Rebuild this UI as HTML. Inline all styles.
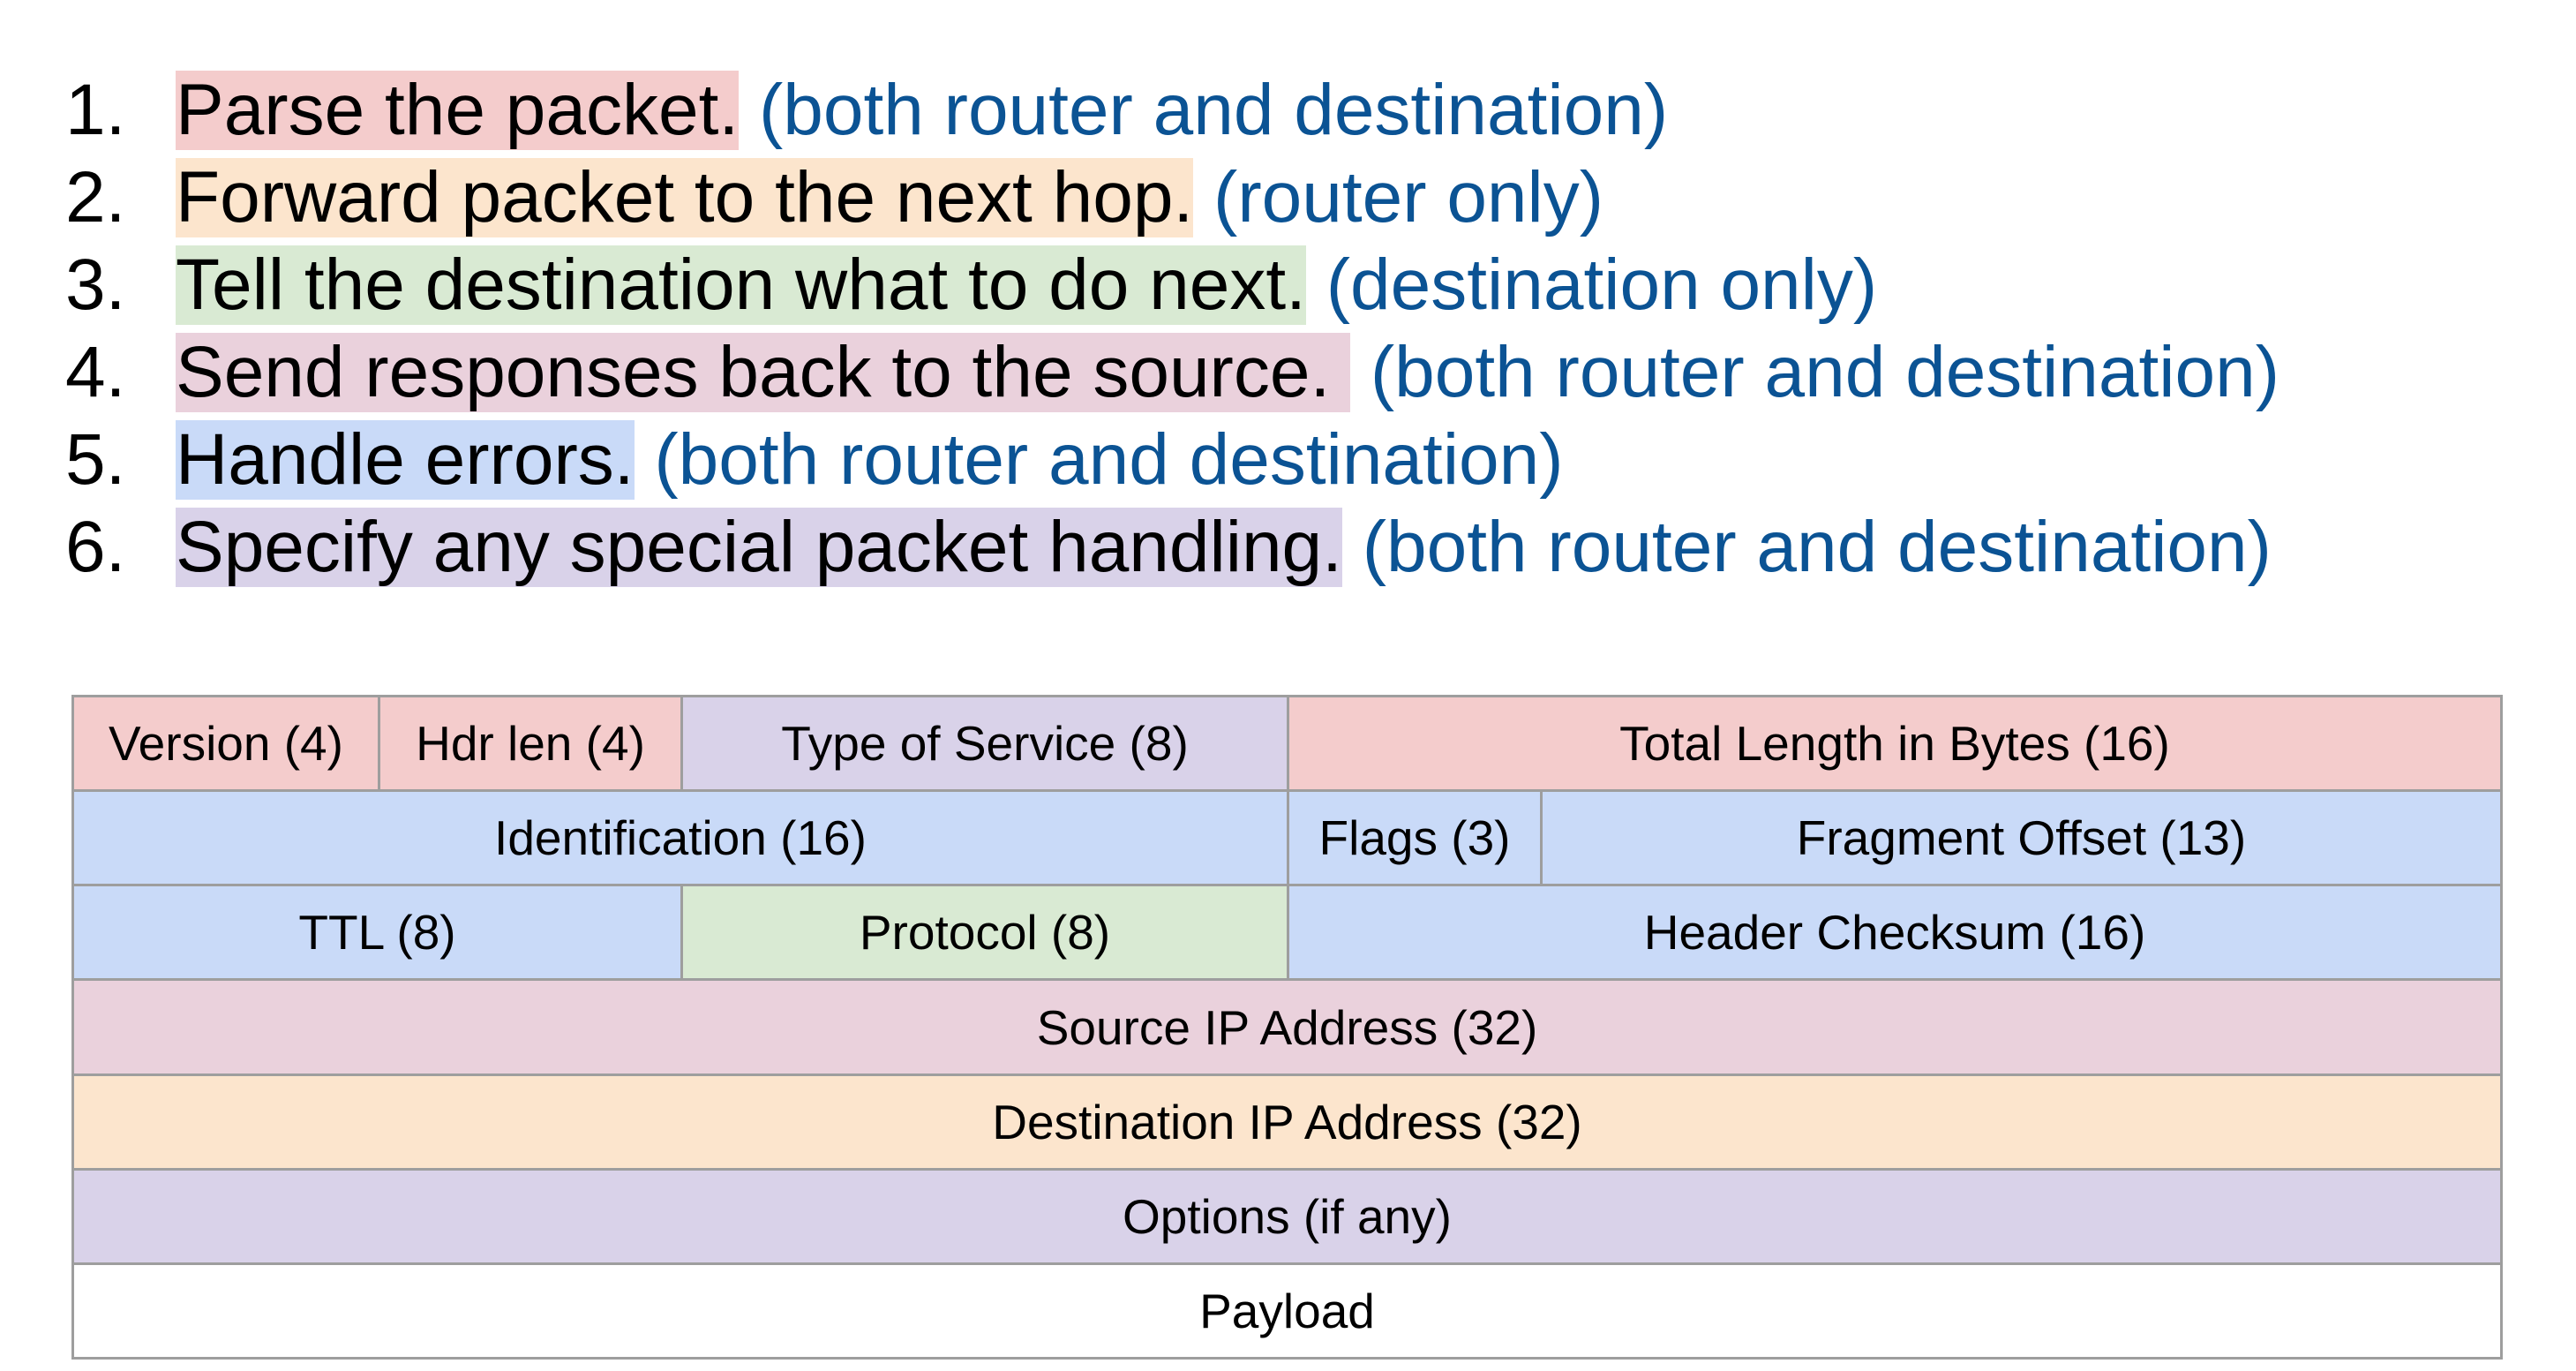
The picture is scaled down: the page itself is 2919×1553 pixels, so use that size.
<!DOCTYPE html>
<html><head><meta charset="utf-8"><style>
html,body{margin:0;padding:0;background:#fff;}
body{width:2919px;height:1553px;position:relative;overflow:hidden;font-family:"Liberation Sans",Arial,sans-serif;}
.ln{position:absolute;left:0;height:90px;line-height:90px;font-size:82px;white-space:pre;color:#000;}
.num{position:absolute;left:74px;}
.txt{position:absolute;left:199px;}
.hl{display:inline-block;height:90px;}
.b{color:#0b5394;}
.c{position:absolute;box-sizing:border-box;border:3px solid #9e9e9e;display:flex;align-items:center;justify-content:center;font-size:55px;color:#000;}
</style></head><body>
<div class="ln" style="top:80px"><span class="num">1.</span><span class="txt"><span class="hl" style="background:#f4cccc">Parse the packet.</span> <span class="b">(both router and destination)</span></span></div>
<div class="ln" style="top:179px"><span class="num">2.</span><span class="txt"><span class="hl" style="background:#fce5cd">Forward packet to the next hop.</span> <span class="b">(router only)</span></span></div>
<div class="ln" style="top:278px"><span class="num">3.</span><span class="txt"><span class="hl" style="background:#d9ead3">Tell the destination what to do next.</span> <span class="b">(destination only)</span></span></div>
<div class="ln" style="top:377px"><span class="num">4.</span><span class="txt"><span class="hl" style="background:#ead1dc">Send responses back to the source. </span> <span class="b">(both router and destination)</span></span></div>
<div class="ln" style="top:476px"><span class="num">5.</span><span class="txt"><span class="hl" style="background:#c9daf8">Handle errors.</span> <span class="b">(both router and destination)</span></span></div>
<div class="ln" style="top:575px"><span class="num">6.</span><span class="txt"><span class="hl" style="background:#d9d2e9">Specify any special packet handling.</span> <span class="b">(both router and destination)</span></span></div>

<div class="c" style="left:81px;top:787px;width:350px;height:110px;background:#f4cccc">Version (4)</div>
<div class="c" style="left:428px;top:787px;width:346px;height:110px;background:#f4cccc">Hdr len (4)</div>
<div class="c" style="left:771px;top:787px;width:690px;height:110px;background:#d9d2e9">Type of Service (8)</div>
<div class="c" style="left:1458px;top:787px;width:1378px;height:110px;background:#f4cccc">Total Length in Bytes (16)</div>

<div class="c" style="left:81px;top:894px;width:1380px;height:110px;background:#c9daf8">Identification (16)</div>
<div class="c" style="left:1458px;top:894px;width:290px;height:110px;background:#c9daf8">Flags (3)</div>
<div class="c" style="left:1745px;top:894px;width:1091px;height:110px;background:#c9daf8">Fragment Offset (13)</div>

<div class="c" style="left:81px;top:1001px;width:693px;height:110px;background:#c9daf8">TTL (8)</div>
<div class="c" style="left:771px;top:1001px;width:690px;height:110px;background:#d9ead3">Protocol (8)</div>
<div class="c" style="left:1458px;top:1001px;width:1378px;height:110px;background:#c9daf8">Header Checksum (16)</div>

<div class="c" style="left:81px;top:1108px;width:2755px;height:111px;background:#ead1dc">Source IP Address (32)</div>
<div class="c" style="left:81px;top:1216px;width:2755px;height:110px;background:#fce5cd">Destination IP Address (32)</div>
<div class="c" style="left:81px;top:1323px;width:2755px;height:110px;background:#d9d2e9">Options (if any)</div>
<div class="c" style="left:81px;top:1430px;width:2755px;height:110px;background:#fff">Payload</div>
</body></html>
